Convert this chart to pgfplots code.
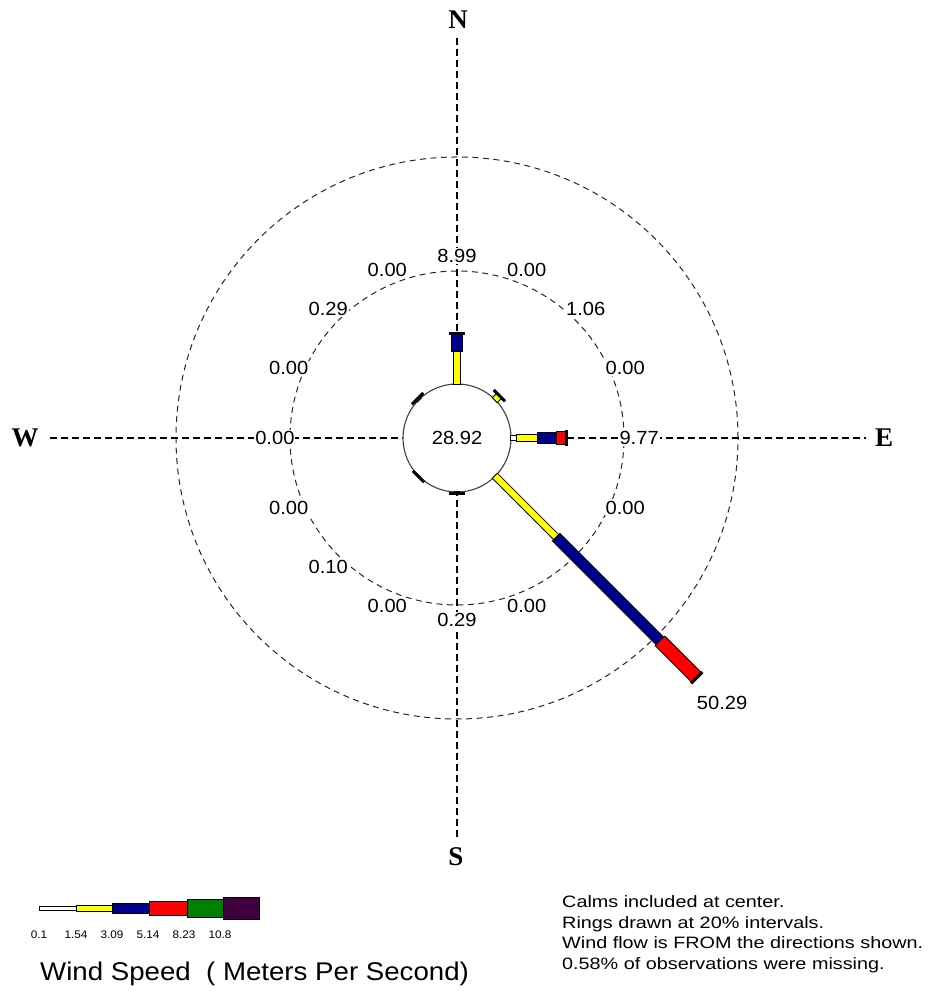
\documentclass[border=0pt]{standalone}
\usepackage{pgfplots}
\pgfplotsset{compat=1.18}
\usepackage{pgfplotstable}
\usepackage{fontspec}
\setmainfont{Liberation Sans}
\newfontfamily\labfont{Liberation Sans}[FakeStretch=1.06]
\newfontfamily\notefont{Liberation Sans}[FakeStretch=1.2]
\newfontfamily\titlefont{Liberation Sans}[FakeStretch=1.08]
\newfontfamily\keyfont{Liberation Sans}[FakeStretch=1.07]
\newfontfamily\compassfont{Liberation Serif}

\definecolor{wsYellow}{RGB}{255,255,0}
\definecolor{wsBlue}{RGB}{0,0,140}
\definecolor{wsRed}{RGB}{255,0,0}
\definecolor{wsGreen}{RGB}{0,128,0}
\definecolor{wsPurple}{RGB}{64,0,64}

% Wind speed classes: direction (deg from north), cumulative start and end (% of obs.)
% 0.1 - 1.54 m/s
\pgfplotstableread{
dir lo hi
90 0 1.00
180 0 0.29
225 0 0.10
315 0 0.29
}\speedA
% 1.54 - 3.09 m/s
\pgfplotstableread{
dir lo hi
0 0 5.80
45 0 1.06
90 1.00 4.76
135 0 15.30
}\speedB
% 3.09 - 5.14 m/s
\pgfplotstableread{
dir lo hi
0 5.80 8.99
90 4.76 8.10
135 15.30 41.20
}\speedC
% 5.14 - 8.23 m/s
\pgfplotstableread{
dir lo hi
90 8.10 9.77
135 41.20 50.29
}\speedD
% Totals per direction and radial position of their labels
\pgfplotstableread{
dir pct lpos
0 8.99 22.6
22.5 0.00 22.6
45 1.06 22.6
67.5 0.00 22.6
90 9.77 22.6
112.5 0.00 22.6
135 50.29 56.6
157.5 0.00 22.6
180 0.29 22.6
202.5 0.00 22.6
225 0.10 22.6
247.5 0.00 22.6
270 0.00 22.6
292.5 0.00 22.6
315 0.29 22.6
337.5 0.00 22.6
}\totals

\def\Rz{9.52}% radius of the calm circle, in percent units
\def\Cw{1.41}% half length of the end caps

% one speed class: outlined radial segments
\newcommand\windseg[4]{%
  \addplot[draw=black, line width=#3,
    quiver={u={(\thisrow{hi}-\thisrow{lo})*sin(\thisrow{dir})},
            v={(\thisrow{hi}-\thisrow{lo})*cos(\thisrow{dir})},
            every arrow/.append style={shorten <=-1pt, shorten >=-1pt}}]
    table[x expr={(\Rz+\thisrow{lo})*sin(\thisrow{dir})},
          y expr={(\Rz+\thisrow{lo})*cos(\thisrow{dir})}] {#1};
  \addplot[draw=#2, line width=#4,
    quiver={u={(\thisrow{hi}-\thisrow{lo})*sin(\thisrow{dir})},
            v={(\thisrow{hi}-\thisrow{lo})*cos(\thisrow{dir})}}]
    table[x expr={(\Rz+\thisrow{lo})*sin(\thisrow{dir})},
          y expr={(\Rz+\thisrow{lo})*cos(\thisrow{dir})}] {#1};
}

\begin{document}
\begin{tikzpicture}
\path[use as bounding box] (0pt,0pt) rectangle (930pt,992pt);

% rings at 20% intervals
\draw[black!85, line width=1pt, dash pattern=on 6pt off 4.5pt] (457pt,554pt) circle[radius=167pt];
\draw[black!85, line width=1pt, dash pattern=on 6pt off 4.5pt] (457pt,554pt) circle[radius=281pt];
% compass lines
\draw[line width=1.3pt, dash pattern=on 7pt off 4pt] (457pt,954pt) -- (457pt,152pt);
\draw[line width=1.3pt, dash pattern=on 7pt off 4pt] (50pt,554pt) -- (866pt,554pt);
% calm circle
\draw[black!75, line width=1.1pt, fill=white] (457pt,554pt) circle[radius=54pt];

\begin{axis}[at={(457pt,554pt)}, anchor=origin,
  x=5.67pt, y=5.67pt, xmin=-80, xmax=83, ymin=-97, ymax=77,
  hide axis, clip=false]
  \windseg{\speedA}{white}{6pt}{4pt}
  \windseg{\speedB}{wsYellow}{8pt}{6pt}
  \windseg{\speedC}{wsBlue}{11.5pt}{9.5pt}
  \windseg{\speedD}{wsRed}{14.5pt}{12.5pt}
  % end caps
  \addplot[draw=black, line width=3pt,
    restrict expr to domain={\thisrow{pct}}{0.01:100},
    quiver={u={2*\Cw*cos(\thisrow{dir})}, v={-2*\Cw*sin(\thisrow{dir})}}]
    table[x expr={(\Rz+\thisrow{pct})*sin(\thisrow{dir})-\Cw*cos(\thisrow{dir})},
          y expr={(\Rz+\thisrow{pct})*cos(\thisrow{dir})+\Cw*sin(\thisrow{dir})}] {\totals};
  % direction totals
  \addplot[draw=none, nodes near coords, point meta=explicit symbolic,
    every node near coord/.append style={anchor=center, fill=white, inner sep=1pt,
      font=\labfont\fontsize{19}{19}\selectfont}]
    table[x expr={(\Rz+\thisrow{lpos})*sin(\thisrow{dir})},
          y expr={(\Rz+\thisrow{lpos})*cos(\thisrow{dir})}, meta=pct] {\totals};
\end{axis}

\node[font=\labfont\fontsize{19}{19}\selectfont] at (457pt,554pt) {28.92};

% compass points
\node[font=\compassfont\bfseries\fontsize{27}{27}\selectfont] at (458pt,972pt) {N};
\node[font=\compassfont\bfseries\fontsize{27}{27}\selectfont] at (456pt,135pt) {S};
\node[font=\compassfont\bfseries\fontsize{27}{27}\selectfont] at (25pt,554pt) {W};
\node[font=\compassfont\bfseries\fontsize{27}{27}\selectfont] at (884pt,554pt) {E};

% speed key
\draw[line width=1pt, fill=white]    (39.5pt,81.5pt) rectangle (76pt,85.5pt);
\draw[line width=1pt, fill=wsYellow] (76pt,80.5pt) rectangle (112pt,86.5pt);
\draw[line width=1pt, fill=wsBlue]   (112pt,78.5pt) rectangle (149pt,88.5pt);
\draw[line width=1pt, fill=wsRed]    (149pt,76.5pt) rectangle (187pt,90.5pt);
\draw[line width=1pt, fill=wsGreen]  (187pt,74.5pt) rectangle (223pt,92.5pt);
\draw[line width=1pt, fill=wsPurple] (223pt,72.5pt) rectangle (259pt,94.5pt);
\foreach \xx/\tt in {39/0.1, 76/1.54, 112/3.09, 148/5.14, 184/8.23, 220/10.8}
  \node[font=\keyfont\fontsize{11}{11}\selectfont] at (\xx pt,57.5pt) {\tt};
\node[anchor=base west, inner sep=0pt, font=\titlefont\fontsize{25.6}{26}\selectfont]
  at (40pt,12pt) {Wind Speed\ \ ( Meters Per Second)};

% notes
\begin{scope}[every node/.style={anchor=base west, inner sep=0pt,
    font=\notefont\fontsize{16.5}{17}\selectfont}]
  \node at (562pt,84.3pt) {Calms included at center.};
  \node at (562pt,63.7pt) {Rings drawn at 20\% intervals.};
  \node at (562pt,43pt) {Wind flow is FROM the directions shown.};
  \node at (562pt,22pt) {0.58\% of observations were missing.};
\end{scope}
\end{tikzpicture}
\end{document}
